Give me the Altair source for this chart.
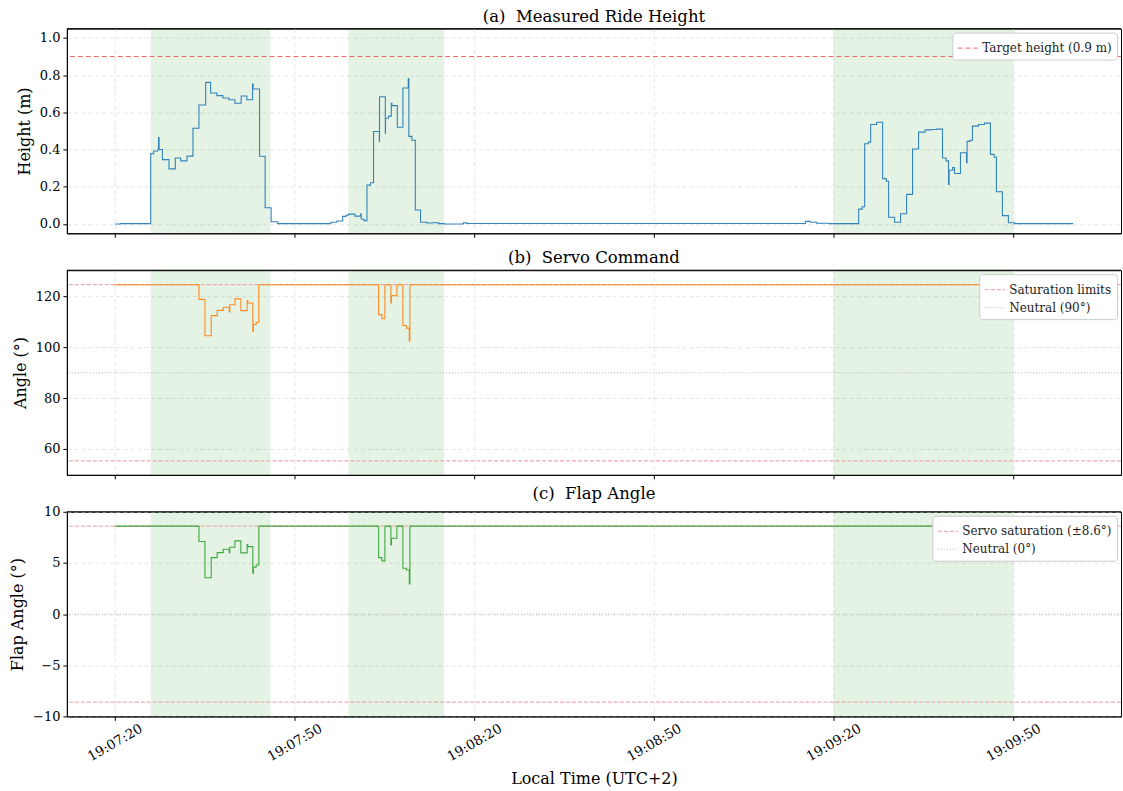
import json
import altair as alt
import pandas as pd

# Time axis: seconds after 19:07:20 local time (UTC+2)
tick_secs = [0, 30, 60, 90, 120, 150]
tick_labels = ["19:07:20", "19:07:50", "19:08:20", "19:08:50", "19:09:20", "19:09:50"]

# Foiling windows (shaded)
shade_start = [6.0, 39.0, 120.0]
shade_end = [26.0, 55.0, 150.0]

# Measured ride height (m), held between samples
height_t = [0, 1.0, 6.0, 6.5, 7.2, 7.3, 7.4, 7.95, 9.05, 10.1, 11.0, 12.05, 13.05, 14.05,
            15.17, 16.0, 17.05, 18.05, 19.05, 20.05, 21.1, 22.05, 23.0, 23.1, 24.17, 25.1,
            26.1, 27.2, 36.1, 37.06, 38.05, 38.6, 39.0, 40.1, 41.05, 41.15, 41.6, 42.1,
            42.7, 43.2, 44.17, 44.2, 45.17, 45.2, 45.7, 46.17, 46.27, 47.17, 48.1, 49.0,
            49.1, 49.6, 50.17, 51.05, 52.1, 53.0, 54.05, 55.0, 58.2, 58.8, 62.0, 114.2,
            115.3, 116.1, 117.2, 119.2, 124.2, 124.8, 125.2, 125.8, 126.2, 127.2, 128.2,
            128.8, 129.2, 130.2, 131.2, 132.2, 133.2, 134.2, 135.3, 136.3, 137.2, 138.2,
            138.8, 139.2, 139.3, 139.9, 140.2, 141.2, 142.2, 142.3, 142.8, 143.2, 144.2,
            145.2, 146.2, 146.8, 147.2, 148.2, 149.2, 150.2, 160.0]
height_v = [0.0, 0.002, 0.378, 0.392, 0.40, 0.464, 0.40, 0.346, 0.296, 0.355, 0.339, 0.365,
            0.515, 0.64, 0.761, 0.704, 0.69, 0.677, 0.668, 0.649, 0.688, 0.668, 0.752, 0.726,
            0.364, 0.087, 0.012, 0.002, 0.009, 0.016, 0.041, 0.047, 0.053, 0.042, 0.054,
            0.027, 0.018, 0.209, 0.222, 0.497, 0.444, 0.684, 0.488, 0.568, 0.58, 0.649,
            0.636, 0.52, 0.731, 0.782, 0.471, 0.45, 0.075, 0.009, 0.005, 0.007, 0.002, 0.0,
            0.006, 0.003, 0.003, 0.003, 0.014, 0.009, 0.004, 0.002, 0.08, 0.093, 0.431,
            0.44, 0.535, 0.547, 0.244, 0.23, 0.036, 0.009, 0.055, 0.159, 0.403, 0.494,
            0.506, 0.508, 0.51, 0.355, 0.339, 0.212, 0.289, 0.303, 0.271, 0.383, 0.33,
            0.444, 0.45, 0.526, 0.535, 0.542, 0.374, 0.36, 0.173, 0.045, 0.007, 0.002, 0.002]

# Servo command (deg) and resulting flap angle (deg), same sample times
ctrl_t = [0, 14.05, 15.05, 16.1, 17.1, 18.1, 19.1, 19.2, 20.05, 21.05, 22.1, 22.2, 23.05,
          23.15, 23.6, 24.05, 44.05, 44.6, 45.1, 46.1, 46.2, 47.1, 48.1, 48.7, 49.17, 49.27,
          160.0]
servo_v = [124.7, 118.9, 104.6, 112.5, 114.6, 115.8, 114.0, 116.8, 119.1, 114.5, 118.5,
           117.5, 106.3, 109.0, 109.8, 124.7, 112.9, 111.3, 124.7, 117.5, 120.4, 124.7,
           108.6, 107.6, 102.4, 124.7, 124.7]
flap_v = [8.6, 7.09, 3.56, 5.52, 6.01, 6.34, 6.0, 6.54, 7.16, 5.98, 6.8, 6.6, 3.99, 4.58,
          4.8, 8.6, 5.52, 5.2, 8.6, 6.76, 7.42, 8.6, 4.48, 4.31, 2.94, 8.6, 8.6]

# Reference levels
target_height = 0.9
servo_limits = [55.3, 124.7]
servo_neutral = 90
flap_limits = [-8.6, 8.6]
flap_neutral = 0

W, H = 1056, 205
FONT = "DejaVu Serif"

shade_df = pd.DataFrame({"start": shade_start, "end": shade_end})
x_scale = alt.Scale(domain=[-8, 168], nice=False, zero=False)
label_expr = f"{json.dumps(tick_labels)}[indexof({json.dumps(tick_secs)}, datum.value)]"


def x_axis(bottom):
    if bottom:
        return alt.Axis(values=tick_secs, labelExpr=label_expr, labelAngle=-30,
                        labelAlign="center", labelBaseline="middle", labelPadding=22,
                        labelFontSize=13.5, title="Local Time (UTC+2)", titlePadding=7)
    return alt.Axis(values=tick_secs, labels=False, title=None)


def panel(title, t, v, color, y_domain, y_ticks, y_title, y_fmt, ref_vals, ref_labels,
          ref_order, ref_colors, ref_dashes, bottom=False):
    xa = x_axis(bottom)
    ys = alt.Scale(domain=y_domain, nice=False, zero=False)
    ya = alt.Axis(values=y_ticks, format=y_fmt, title=y_title, labelPadding=3,
                  titlePadding=7)
    shade = alt.Chart(shade_df).mark_rect(color="#2ca02c", opacity=0.12).encode(
        x=alt.X("start:Q", scale=x_scale, axis=xa),
        x2="end:Q",
        y=alt.value(0),
        y2=alt.value(H),
    )
    legend = alt.Legend(title=None, orient="top-right", offset=4)
    refs = alt.Chart(pd.DataFrame({"v": ref_vals, "label": ref_labels})).mark_rule(
        strokeWidth=1
    ).encode(
        y=alt.Y("v:Q", scale=ys, axis=ya),
        color=alt.Color("label:N", scale=alt.Scale(domain=ref_order, range=ref_colors),
                        legend=legend),
        strokeDash=alt.StrokeDash("label:N",
                                  scale=alt.Scale(domain=ref_order, range=ref_dashes),
                                  legend=legend),
    )
    line = alt.Chart(pd.DataFrame({"t": t, "v": v})).mark_line(
        interpolate="step-after", color=color, strokeWidth=1.1, opacity=0.9
    ).encode(
        x=alt.X("t:Q", scale=x_scale, axis=xa),
        y=alt.Y("v:Q", scale=ys, axis=ya),
    )
    # top frame edge, kept above the grid
    frame_top = alt.Chart(pd.DataFrame({"k": [0]})).mark_rule(
        color="black", strokeWidth=1
    ).encode(x=alt.value(0), x2=alt.value(W), y=alt.value(0))
    return alt.layer(shade, refs, line, frame_top).properties(
        width=W, height=H,
        title=alt.TitleParams(title, font=FONT, fontSize=16.5, fontWeight="normal",
                              color="black", offset=3, anchor="middle"),
    )


pa = panel("(a)\u00a0 Measured Ride Height", height_t, height_v, "#1f77b4",
           [-0.05, 1.05], [0, 0.2, 0.4, 0.6, 0.8, 1.0], "Height (m)", ".1f",
           [target_height], ["Target height (0.9 m)"], ["Target height (0.9 m)"],
           ["#e4686b"], [[5, 3]])
pb = panel("(b)\u00a0 Servo Command", ctrl_t, servo_v, "#ff7f0e",
           [49.8, 130.4], [60, 80, 100, 120], "Angle (°)", "d",
           servo_limits + [servo_neutral],
           ["Saturation limits", "Saturation limits", "Neutral (90°)"],
           ["Saturation limits", "Neutral (90°)"],
           ["#eb9699", "#b5b5b5"], [[4, 2], [1, 2]])
pc = panel("(c)\u00a0 Flap Angle", ctrl_t, flap_v, "#2ca02c",
           [-10, 10], [-10, -5, 0, 5, 10], "Flap Angle (°)", "d",
           flap_limits + [flap_neutral],
           ["Servo saturation (±8.6°)", "Servo saturation (±8.6°)", "Neutral (0°)"],
           ["Servo saturation (±8.6°)", "Neutral (0°)"],
           ["#eb9699", "#b5b5b5"], [[4, 2], [1, 2]], bottom=True)

chart = alt.vconcat(pa, pb, pc, spacing=37, bounds="flush").resolve_scale(
    color="independent", strokeDash="independent"
).resolve_legend(
    color="independent", strokeDash="independent"
).properties(
    padding={"left": 9, "top": 7, "right": 1, "bottom": 2}
).configure_view(
    stroke="black", strokeWidth=1
).configure_axis(
    labelFont=FONT, labelFontSize=13, labelColor="black",
    titleFont=FONT, titleFontSize=16, titleFontWeight="normal", titleColor="black",
    domainColor="black", tickColor="black", tickSize=4,
    grid=True, gridColor="#dedede", gridDash=[4, 3], gridWidth=0.8,
).configure_legend(
    labelFont=FONT, labelFontSize=12, labelColor="#222222",
    symbolType="stroke", symbolSize=400, symbolStrokeWidth=1,
    fillColor="white", strokeColor="#cccccc", cornerRadius=3, padding=5,
    rowPadding=1, labelLimit=300,
)

chart.save("out.html", embed_options={"renderer": "svg", "actions": False})
